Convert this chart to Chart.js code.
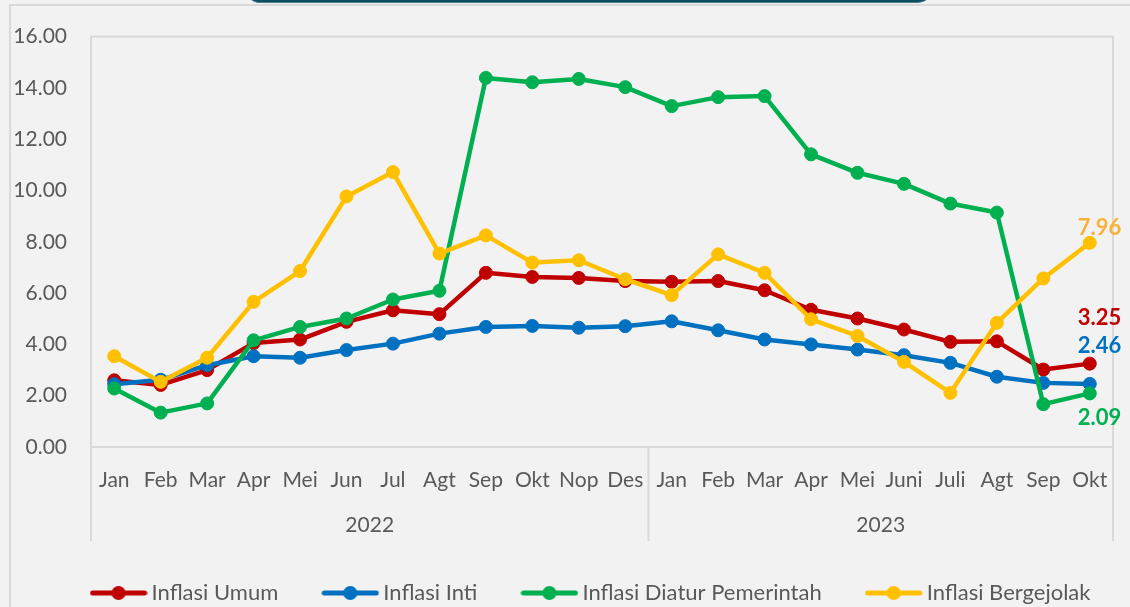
<!DOCTYPE html>
<html><head><meta charset="utf-8">
<script src="https://cdn.jsdelivr.net/npm/chart.js@4.4.0/dist/chart.umd.min.js"></script>
<style>
html,body{margin:0;padding:0;background:#f2f2f2;}
#wrap{position:relative;width:1130px;height:607px;overflow:hidden;background:#f2f2f2;}
#frame{position:absolute;left:9px;top:4px;width:1140px;height:620px;border-left:2px solid #d9d9d9;border-top:2px solid #d9d9d9;}
#titlebox{position:absolute;left:246px;top:-40px;width:686px;height:42px;background:#0d4e63;border-radius:0 0 14px 14px;border-bottom:1px solid #4d7c8c;}
canvas{position:absolute;left:0;top:0;}
</style></head>
<body>
<div id="wrap">
  <div id="frame"></div>
  <div id="titlebox"></div>
  <canvas id="c" width="1130" height="607"></canvas>
</div>
<script>
const months = ['Jan','Feb','Mar','Apr','Mei','Jun','Jul','Agt','Sep','Okt','Nop','Des','Jan','Feb','Mar','Apr','Mei','Juni','Juli','Agt','Sep','Okt'];
const years = ['2022','2023'];
const monthsPerYear = [12, 10];
const seriesNames = ['Inflasi Umum','Inflasi Inti','Inflasi Diatur Pemerintah','Inflasi Bergejolak'];
const inflasiUmum = [2.60,2.42,3.00,4.05,4.19,4.88,5.33,5.18,6.79,6.63,6.59,6.47,6.44,6.47,6.11,5.35,5.01,4.58,4.10,4.12,3.02,3.25];
const inflasiInti = [2.45,2.62,3.19,3.54,3.48,3.78,4.03,4.42,4.68,4.72,4.65,4.71,4.90,4.55,4.19,4.00,3.80,3.58,3.28,2.74,2.50,2.46];
const inflasiDiatur = [2.28,1.34,1.70,4.16,4.68,5.01,5.75,6.09,14.39,14.22,14.35,14.03,13.29,13.64,13.68,11.41,10.69,10.26,9.49,9.14,1.67,2.09];
const inflasiBergejolak = [3.54,2.54,3.48,5.66,6.86,9.77,10.72,7.54,8.25,7.19,7.28,6.54,5.92,7.51,6.79,4.98,4.33,3.32,2.11,4.84,6.57,7.96];

const colors = ['#C00000','#0070C0','#00B050','#FFC000'];
const labelColors = ['#C00000','#0070C0','#00B050','#F9B13A'];
const labelOffsets = [[-12,-46],[-12,-38],[-12,25],[-12,-15]];

const FONT = "Lato, 'Open Sans', sans-serif";
const TXT = '#595959';

function legendIcon(color){
  const c = document.createElement('canvas'); c.width = 58; c.height = 18;
  const g = c.getContext('2d');
  g.strokeStyle = color; g.lineWidth = 5; g.lineCap = 'round';
  g.beginPath(); g.moveTo(3,9); g.lineTo(55,9); g.stroke();
  g.fillStyle = color; g.beginPath(); g.arc(29,9,7,0,Math.PI*2); g.fill();
  return c;
}
const icons = colors.map(legendIcon);

const allData = [inflasiUmum, inflasiInti, inflasiDiatur, inflasiBergejolak];
const datasets = allData.map((d,i)=>({
  label: seriesNames[i],
  data: d,
  borderColor: colors[i],
  backgroundColor: colors[i],
  pointBackgroundColor: colors[i],
  pointBorderColor: colors[i],
  borderWidth: 4.5,
  pointRadius: 6.5,
  pointBorderWidth: 1,
  pointHoverRadius: 6.5,
  tension: 0,
  borderJoinStyle: 'round',
  order: 4 - i
}));

const decorPlugin = {
  id: 'decor',
  afterLayout(chart){
    const l = chart.legend;
    l.top += 7; l.bottom += 7; l.left += 37; l.right += 37;
  },
  beforeDatasetsDraw(chart){
    const ctx = chart.ctx, a = chart.chartArea, xs = chart.scales.x;
    ctx.save();
    ctx.strokeStyle = '#d9d9d9'; ctx.lineWidth = 2;
    ctx.strokeRect(a.left, a.top, a.right - a.left, a.bottom - a.top);
    const bounds = [a.left];
    let idx = 0;
    monthsPerYear.forEach(n => {
      idx += n;
      bounds.push(idx < months.length ? (xs.getPixelForValue(idx-1) + xs.getPixelForValue(idx)) / 2 : a.right);
    });
    ctx.beginPath();
    bounds.forEach(b => { ctx.moveTo(b, a.bottom); ctx.lineTo(b, a.bottom + 94); });
    ctx.stroke();
    ctx.fillStyle = TXT; ctx.font = "21px " + FONT;
    ctx.textAlign = 'center'; ctx.textBaseline = 'middle';
    years.forEach((yr,i) => ctx.fillText(yr, (bounds[i] + bounds[i+1]) / 2, a.bottom + 78));
    ctx.restore();
  },
  afterDatasetsDraw(chart){
    const ctx = chart.ctx;
    ctx.save();
    ctx.font = "bold 22px " + FONT;
    ctx.textAlign = 'left'; ctx.textBaseline = 'middle';
    chart.data.datasets.forEach((ds,i) => {
      const meta = chart.getDatasetMeta(i);
      const last = meta.data[meta.data.length - 1];
      const v = ds.data[ds.data.length - 1];
      ctx.fillStyle = labelColors[i];
      ctx.fillText(v.toFixed(2), last.x + labelOffsets[i][0], last.y + labelOffsets[i][1]);
    });
    ctx.restore();
  }
};

new Chart(document.getElementById('c'), {
  type: 'line',
  data: { labels: months, datasets },
  options: {
    responsive: false,
    animation: false,
    layout: { padding: { left: 0, right: 17, top: 36, bottom: 0 } },
    plugins: {
      tooltip: { enabled: false },
      legend: {
        position: 'bottom',
        labels: {
          usePointStyle: true,
          pointStyleWidth: 44,
          padding: 50,
          color: TXT,
          font: { family: FONT, size: 22 },
          generateLabels(chart){
            const items = Chart.defaults.plugins.legend.labels.generateLabels(chart);
            items.sort((p,q)=>p.datasetIndex-q.datasetIndex);
            items.forEach(it => { it.pointStyle = icons[it.datasetIndex]; });
            return items;
          }
        }
      }
    },
    scales: {
      x: {
        offset: true,
        grid: { display: false },
        border: { display: false },
        ticks: { color: TXT, font: { family: FONT, size: 21 }, padding: 13, maxRotation: 0, autoSkip: false },
        afterFit(s){ s.height = 78; }
      },
      y: {
        min: 0, max: 16,
        grid: { display: false, drawTicks: false },
        border: { display: false },
        ticks: { stepSize: 2, color: TXT, font: { family: FONT, size: 21 }, padding: 24, callback: v => Number(v).toFixed(2) },
        afterFit(s){ s.width = 91; }
      }
    }
  },
  plugins: [decorPlugin]
});
</script>
</body></html>
